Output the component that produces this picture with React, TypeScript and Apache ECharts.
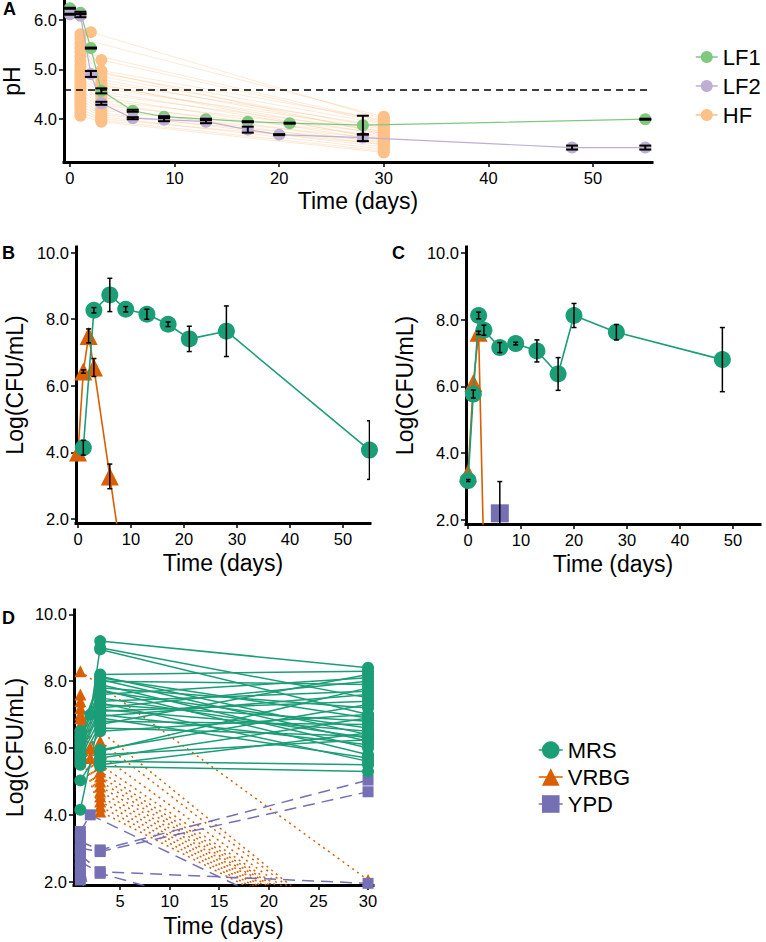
import React, { useEffect, useRef } from "react";
import * as echarts from "echarts";

// ---------------- Panel A (pH) ----------------
const aXTicks = [0, 10, 20, 30, 40, 50];
const aYTicks = [4, 5, 6];
const lf1Days = [0, 1, 2, 3, 6, 9, 13, 17, 21, 28, 55];
const lf1pH = [6.23, 6.14, 5.43, 4.57, 4.17, 4.05, 4.0, 3.95, 3.92, 3.88, 4.0];
const lf1Err = [0.01, 0.02, 0.01, 0.05, 0.02, 0.01, 0.01, 0.01, 0.01, 0.19, 0.01];
const lf2Days = [0, 1, 2, 3, 6, 9, 13, 17, 20, 28, 48, 55];
const lf2pH = [6.11, 6.08, 4.91, 4.32, 4.02, 3.99, 3.95, 3.79, 3.69, 3.63, 3.43, 3.43];
const lf2Err = [0.01, 0.03, 0.06, 0.03, 0.02, 0.03, 0.03, 0.06, 0.01, 0.07, 0.04, 0.04];
const phThreshold = 4.6;
// HF samples: pH at days [1, 2, 3, 30] (null = not measured)
const hfDays = [1, 2, 3, 30];
const hfSamples: (number | null)[][] = [
  [5.71, null, 4.98, 3.98],
  [5.62, null, null, 4.05],
  [5.52, null, 4.92, 3.9],
  [5.43, null, 4.86, 3.82],
  [5.35, null, null, 3.95],
  [5.26, null, 4.8, 3.74],
  [5.17, null, 4.74, 3.86],
  [5.08, null, 4.68, 3.68],
  [5.0, null, 4.62, 3.8],
  [4.93, null, 4.56, 3.62],
  [4.86, null, 4.5, 3.76],
  [4.79, null, 4.44, 3.57],
  [4.72, null, 4.38, 3.72],
  [4.65, null, 4.33, 3.52],
  [4.58, null, 4.28, 3.66],
  [4.51, null, 4.23, 3.48],
  [4.45, null, 4.18, 3.6],
  [4.39, null, 4.13, 3.44],
  [4.33, null, 4.09, 3.55],
  [4.27, null, 4.05, 3.4],
  [4.21, null, 4.01, 3.5],
  [4.14, null, 3.98, 3.36],
  [4.07, null, 3.95, 3.33],
  [null, 5.75, null, 4.0],
  [null, null, 5.19, 3.92],
  [null, null, 4.95, 3.7],
  [null, null, 4.7, 3.58],
];

// ---------------- Panels B and C (means) ----------------
const bcXTicks = [0, 10, 20, 30, 40, 50];
const cfuTicks = [2, 4, 6, 8, 10];
const bMrsDays = [1, 3, 6, 9, 13, 17, 21, 28, 55];
const bMrs = [4.14, 8.27, 8.73, 8.3, 8.15, 7.85, 7.41, 7.64, 4.07];
const bMrsErr = [0.22, 0.08, 0.5, 0.08, 0.15, 0.07, 0.38, 0.76, 0.88];
const bVrbgDays = [0, 1, 2, 3, 6, 9];
const bVrbg = [4.0, 6.43, 7.5, 6.55, 3.28, 0];
const bVrbgErr = [0, 0.05, 0.21, 0.27, 0.37, 0];

const cMrsDays = [0, 1, 2, 3, 6, 9, 13, 17, 20, 28, 48];
const cMrs = [3.18, 5.77, 8.12, 7.68, 7.16, 7.28, 7.06, 6.37, 8.12, 7.62, 6.8];
const cMrsErr = [0.03, 0.12, 0.1, 0.15, 0.15, 0.04, 0.33, 0.49, 0.36, 0.23, 0.96];
const cVrbgDays = [0, 1, 2, 3];
const cVrbg = [3.4, 6.1, 7.6, 0.8];
const cVrbgErr = [0, 0, 0.05, 0];
const cYpdDays = [6];
const cYpd = [2.2];
const cYpdErr = [0.95];

// ---------------- Panel D (individual samples) ----------------
const dXTicks = [5, 10, 15, 20, 25, 30];
const dDays = [1, 2, 3, 30];
const dMrs: (number | null)[][] = [
  [null, null, 9.2, 8.4],
  [null, 7.0, 9.0, 7.5],
  [null, null, 8.95, 7.0],
  [null, null, 8.2, 8.3],
  [null, null, 8.15, 6.4],
  [null, null, 8.1, 6.9],
  [6.5, null, 8.05, 6.2],
  [6.4, null, 8.0, 7.9],
  [null, null, 7.9, 6.0],
  [6.3, null, 7.8, 7.2],
  [null, null, 7.75, 5.8],
  [6.2, null, 7.7, 6.6],
  [null, null, 7.6, 8.1],
  [6.1, null, 7.5, 6.3],
  [null, null, 7.4, 7.7],
  [6.0, null, 7.35, 5.6],
  [null, null, 7.3, 6.8],
  [5.9, null, 7.2, 8.0],
  [null, null, 7.15, 6.5],
  [5.8, null, 7.1, 7.4],
  [4.15, null, 7.0, 6.1],
  [null, null, 6.95, 7.6],
  [5.7, null, 6.9, 5.7],
  [null, null, 6.8, 6.7],
  [5.6, null, 6.7, 8.2],
  [null, null, 6.6, 6.35],
  [5.5, null, 6.5, 7.0],
  [5.03, null, 5.95, 7.3],
  [null, null, 5.45, 5.3],
  [null, null, 5.9, 7.8],
  [null, null, 5.8, 6.25],
  [null, null, 5.7, 6.9],
  [null, null, 5.6, 5.5],
  [null, null, 5.5, 6.45],
];
const dVrbg: (number | null)[][] = [
  [8.3, null, null, 2.05],
  [7.0, null, null, 0],
  [7.6, null, 5.3, 0],
  [7.4, null, 5.15, 0],
  [7.2, null, 5.0, 0],
  [6.9, null, 4.85, 0],
  [6.7, null, 4.7, 0],
  [6.5, null, 4.55, 0],
  [6.3, null, 4.4, 0],
  [6.1, null, 4.25, 0],
  [5.9, null, 4.1, 0],
  [5.6, 5.7, 6.2, 0],
  [null, 6.0, 5.8, 0],
  [null, null, 5.5, 0],
];
const dYpd: (number | null)[][] = [
  [3.5, 4.0, null, 0],
  [3.2, null, 2.95, 5.04],
  [3.0, null, 2.9, 4.69],
  [2.8, null, 2.3, 1.95],
  [2.6, null, 2.25, 0],
  [2.9, null, 0, null],
  [2.4, null, 0, null],
  [2.2, null, 0, null],
  [3.35, null, null, null],
  [2.05, null, null, null],
];

// ---------------- styling ----------------
const FONT = "'Liberation Sans', Arial, Helvetica, sans-serif";
const C_LF1 = "#7fc97f";
const C_LF2 = "#beaed4";
const C_HF = "#fdc086";
const C_MRS = "#1b9e77";
const C_VRBG = "#d95f02";
const C_YPD = "#7570b3";

const pts = (days: number[], vals: number[]) => days.map((d, i) => [d, vals[i]]);
const rowPts = (days: number[], row: (number | null)[]) =>
  row.map((v, i) => (v == null ? null : [days[i], v])).filter((p) => p !== null) as number[][];

function axis(gridIndex: number, min: number, max: number, ticks: number[], decimals: number, name: string, nameGap: number) {
  return {
    type: "value",
    gridIndex,
    min,
    max,
    name,
    nameLocation: "middle",
    nameGap,
    nameTextStyle: { fontSize: 23, color: "#000", fontFamily: FONT },
    axisLine: { show: true, onZero: false, lineStyle: { color: "#000", width: 3, cap: "square" } },
    axisTick: { show: true, length: 5, customValues: ticks, lineStyle: { color: "#000", width: 1.5 } },
    axisLabel: {
      customValues: ticks,
      color: "#000",
      fontSize: 16.5,
      fontFamily: FONT,
      margin: 7,
      formatter: (v: number) => Number(v).toFixed(decimals),
    },
    splitLine: { show: false },
  };
}

function errSeries(gi: number, days: number[], vals: number[], errs: number[], halfW: number, lw: number) {
  return {
    type: "custom",
    xAxisIndex: gi,
    yAxisIndex: gi,
    clip: true,
    silent: true,
    z: 10,
    encode: { x: 0, y: 1 },
    data: days.map((d, i) => [d, vals[i], errs[i]]).filter((r) => r[2] > 0),
    renderItem: (_p: any, api: any) => {
      const x = api.value(0);
      const y = api.value(1);
      const e = api.value(2);
      const t = api.coord([x, y + e]);
      const b = api.coord([x, y - e]);
      const st = { stroke: "#000", lineWidth: lw };
      return {
        type: "group",
        children: [
          { type: "line", shape: { x1: t[0], y1: t[1], x2: b[0], y2: b[1] }, style: st },
          { type: "line", shape: { x1: t[0] - halfW, y1: t[1], x2: t[0] + halfW, y2: t[1] }, style: st },
          { type: "line", shape: { x1: b[0] - halfW, y1: b[1], x2: b[0] + halfW, y2: b[1] }, style: st },
        ],
      };
    },
  };
}

function meanLine(gi: number, name: string, data: number[][], color: string, symbol: string, size: number, lw: number, z: number, extra: any = {}) {
  return {
    type: "line",
    name,
    xAxisIndex: gi,
    yAxisIndex: gi,
    data,
    symbol,
    symbolSize: size,
    showSymbol: true,
    clip: true,
    silent: true,
    z,
    lineStyle: { color, width: lw },
    itemStyle: { color, opacity: 1 },
    emphasis: { disabled: true },
    ...extra,
  };
}

function buildOption() {
  const series: any[] = [];

  // ---- A ----
  hfSamples.forEach((row) => {
    series.push({
      type: "line",
      name: "HF",
      xAxisIndex: 0,
      yAxisIndex: 0,
      data: rowPts(hfDays, row),
      symbol: "circle",
      symbolSize: 12,
      showSymbol: false,
      clip: true,
      silent: true,
      z: 1,
      lineStyle: { color: C_HF, width: 1, opacity: 0.35 },
      itemStyle: { color: C_HF },
      emphasis: { disabled: true },
    });
  });
  series.push({
    type: "scatter",
    name: "HF",
    xAxisIndex: 0,
    yAxisIndex: 0,
    data: hfSamples.flatMap((r) => rowPts(hfDays, r)),
    symbol: "circle",
    symbolSize: 12,
    silent: true,
    z: 2,
    itemStyle: { color: C_HF, opacity: 1 },
  });
  series.push(
    meanLine(0, "LF1", pts(lf1Days, lf1pH), C_LF1, "circle", 12, 1.2, 3, {
      markLine: {
        silent: true,
        symbol: "none",
        label: { show: false },
        lineStyle: { color: "#000", width: 1.5, type: [7, 5] },
        data: [{ yAxis: phThreshold }],
      },
    })
  );
  series.push(meanLine(0, "LF2", pts(lf2Days, lf2pH), C_LF2, "circle", 12, 1.2, 3));
  series.push(errSeries(0, lf1Days, lf1pH, lf1Err, 6, 2));
  series.push(errSeries(0, lf2Days, lf2pH, lf2Err, 6, 2));

  // ---- B ----
  series.push(meanLine(1, "VRBG", pts(bVrbgDays, bVrbg), C_VRBG, "triangle", 18, 1.6, 3));
  series.push(meanLine(1, "MRS", pts(bMrsDays, bMrs), C_MRS, "circle", 17, 1.6, 4));
  series.push(errSeries(1, bVrbgDays, bVrbg, bVrbgErr, 2.5, 1.5));
  series.push(errSeries(1, bMrsDays, bMrs, bMrsErr, 2.5, 1.5));

  // ---- C ----
  series.push(meanLine(2, "VRBG", pts(cVrbgDays, cVrbg), C_VRBG, "triangle", 18, 1.6, 3));
  series.push(meanLine(2, "YPD", pts(cYpdDays, cYpd), C_YPD, "rect", 18, 1.6, 3));
  series.push(meanLine(2, "MRS", pts(cMrsDays, cMrs), C_MRS, "circle", 17, 1.6, 4));
  series.push(errSeries(2, cVrbgDays, cVrbg, cVrbgErr, 2.5, 1.5));
  series.push(errSeries(2, cYpdDays, cYpd, cYpdErr, 2.5, 1.5));
  series.push(errSeries(2, cMrsDays, cMrs, cMrsErr, 2.5, 1.5));

  // ---- D ----
  const dGroups = [
    { name: "VRBG", rows: dVrbg, color: C_VRBG, symbol: "triangle", size: 12, type: [2, 4] as any },
    { name: "YPD", rows: dYpd, color: C_YPD, symbol: "rect", size: 11, type: [12, 7] as any },
    { name: "MRS", rows: dMrs, color: C_MRS, symbol: "circle", size: 12, type: "solid" as any },
  ];
  dGroups.forEach((g) => {
    g.rows.forEach((row) => {
      series.push({
        type: "line",
        name: g.name,
        xAxisIndex: 3,
        yAxisIndex: 3,
        data: rowPts(dDays, row),
        symbol: g.symbol,
        showSymbol: false,
        clip: true,
        silent: true,
        z: 2,
        lineStyle: { color: g.color, width: 1.5, type: g.type },
        itemStyle: { color: g.color },
        emphasis: { disabled: true },
      });
    });
  });
  dGroups.forEach((g) => {
    series.push({
      type: "scatter",
      name: g.name,
      xAxisIndex: 3,
      yAxisIndex: 3,
      data: g.rows.flatMap((r) => rowPts(dDays, r)),
      symbol: g.symbol,
      symbolSize: g.size,
      clip: true,
      silent: true,
      z: 3,
      itemStyle: { color: g.color, opacity: 1 },
    });
  });

  const panelLabel = (text: string, left: number, top: number) => ({
    type: "text",
    left,
    top,
    silent: true,
    style: { text, fill: "#000", font: `bold 18px ${FONT}` },
  });

  return {
    animation: false,
    backgroundColor: "#fff",
    textStyle: { fontFamily: FONT },
    grid: [
      { left: 64, top: 0, width: 588, height: 162, containLabel: false, outerBoundsMode: "none" },
      { left: 76, top: 247, width: 294, height: 276, containLabel: false, outerBoundsMode: "none" },
      { left: 466, top: 247, width: 294, height: 277, containLabel: false, outerBoundsMode: "none" },
      { left: 74, top: 610, width: 299, height: 275, containLabel: false, outerBoundsMode: "none" },
    ],
    xAxis: [
      axis(0, -0.57, 55.64, aXTicks, 0, "Time (days)", 27),
      axis(1, -0.38, 55.1, bcXTicks, 0, "Time (days)", 28),
      axis(2, -0.38, 55.1, bcXTicks, 0, "Time (days)", 28),
      axis(3, 0.36, 30.5, dXTicks, 0, "Time (days)", 29),
    ],
    yAxis: [
      axis(0, 3.14, 6.396, aYTicks, 1, "pH", 38),
      axis(1, 1.88, 10.17, cfuTicks, 1, "Log(CFU/mL)", 50),
      axis(2, 1.88, 10.17, cfuTicks, 1, "Log(CFU/mL)", 50),
      axis(3, 1.9, 10.13, cfuTicks, 1, "Log(CFU/mL)", 48),
    ],
    legend: [
      {
        orient: "vertical",
        left: 690,
        top: 41,
        itemWidth: 22,
        itemHeight: 15,
        itemGap: 7,
        selectedMode: false,
        data: ["LF1", "LF2", "HF"],
        textStyle: { fontSize: 22, color: "#000", fontFamily: FONT },
        lineStyle: { opacity: 1, width: 1.5 },
      },
      {
        orient: "vertical",
        left: 533,
        top: 734,
        itemWidth: 24,
        itemHeight: 22,
        itemGap: 5,
        selectedMode: false,
        data: ["MRS", "VRBG", "YPD"],
        textStyle: { fontSize: 22, color: "#000", fontFamily: FONT },
        lineStyle: { opacity: 1, width: 1.5, type: "solid" },
      },
    ],
    graphic: [
      panelLabel("A", 3, 0),
      panelLabel("B", 2, 244),
      panelLabel("C", 392, 244),
      panelLabel("D", 2, 609),
    ],
    series,
  };
}

export default function App() {
  const ref = useRef<HTMLDivElement>(null);
  useEffect(() => {
    if (!ref.current) return;
    const chart = echarts.init(ref.current, null, { renderer: "svg" });
    chart.setOption(buildOption() as any);
    return () => chart.dispose();
  }, []);
  return (
    <div
      ref={ref}
      style={{ position: "absolute", left: 0, top: 0, width: 766, height: 942, background: "#fff" }}
    />
  );
}
